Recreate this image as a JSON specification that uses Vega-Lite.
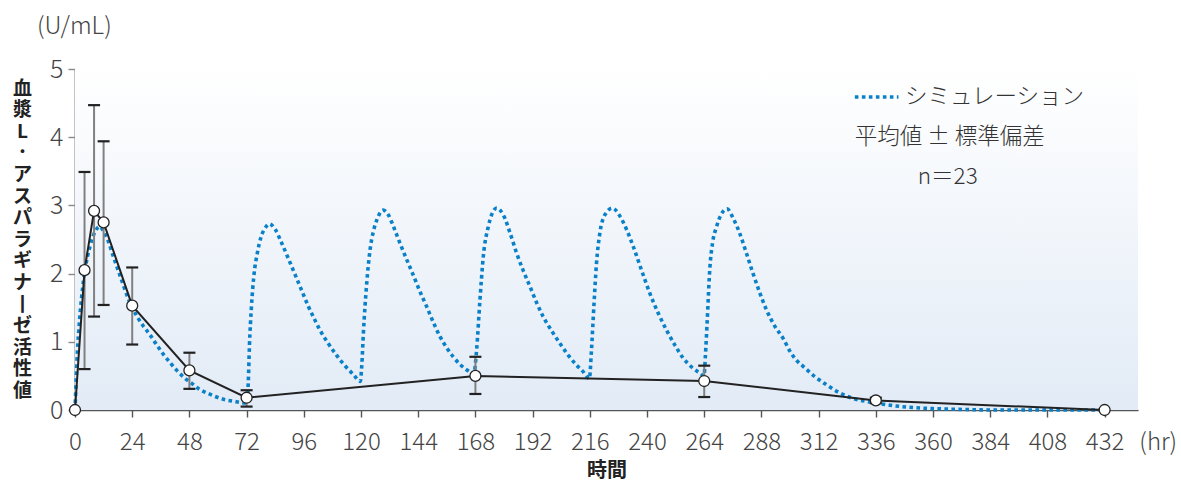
{
  "$schema": "https://vega.github.io/schema/vega-lite/v6.json",
  "width": 1063,
  "height": 341,
  "autosize": "none",
  "padding": {"left": 75, "top": 69, "right": 43, "bottom": 73},
  "background": "white",
  "data": {"values": [{"note": "annotation"}]},
  "config": {
    "view": {"stroke": null},
    "font": "Noto Sans CJK JP",
    "axis": {"labelFont": "Noto Sans CJK JP", "titleFont": "Noto Sans CJK JP", "grid": false}
  },
  "title": {
    "text": "(U/mL)",
    "anchor": "start",
    "frame": "group",
    "dx": -38,
    "offset": 18,
    "fontSize": 24,
    "fontWeight": 300,
    "font": "Noto Sans CJK JP",
    "color": "#444444"
  },
  "datasets": {
    "sim": [
      {"t": 0, "c": 0.0}, {"t": 0.5, "c": 0.45}, {"t": 1, "c": 0.85}, {"t": 1.7, "c": 1.22},
      {"t": 2.8, "c": 1.66}, {"t": 4.2, "c": 2.05}, {"t": 6.3, "c": 2.4}, {"t": 8.5, "c": 2.62},
      {"t": 10.3, "c": 2.69}, {"t": 12, "c": 2.62}, {"t": 14, "c": 2.47}, {"t": 16.1, "c": 2.25},
      {"t": 19, "c": 1.96}, {"t": 22.4, "c": 1.63}, {"t": 25.9, "c": 1.38}, {"t": 28.5, "c": 1.24},
      {"t": 31.5, "c": 1.1}, {"t": 34, "c": 0.97}, {"t": 37, "c": 0.82}, {"t": 40, "c": 0.69},
      {"t": 43, "c": 0.57}, {"t": 46, "c": 0.47}, {"t": 49, "c": 0.39}, {"t": 52.4, "c": 0.3},
      {"t": 56, "c": 0.24}, {"t": 59.4, "c": 0.19}, {"t": 63, "c": 0.15}, {"t": 66.4, "c": 0.13},
      {"t": 69.5, "c": 0.11}, {"t": 72.2, "c": 0.1},
      {"t": 72.7, "c": 0.4}, {"t": 73.2, "c": 0.95}, {"t": 74, "c": 1.5}, {"t": 75, "c": 1.95},
      {"t": 76.5, "c": 2.3}, {"t": 78, "c": 2.53}, {"t": 80, "c": 2.68}, {"t": 81.5, "c": 2.73},
      {"t": 84, "c": 2.65}, {"t": 86.7, "c": 2.45}, {"t": 90, "c": 2.18}, {"t": 93, "c": 1.93},
      {"t": 95.5, "c": 1.72}, {"t": 97.9, "c": 1.52}, {"t": 100.5, "c": 1.33}, {"t": 102.8, "c": 1.17},
      {"t": 106, "c": 0.99}, {"t": 109.8, "c": 0.8}, {"t": 113, "c": 0.66}, {"t": 116.8, "c": 0.52},
      {"t": 119.7, "c": 0.42},
      {"t": 120.3, "c": 0.64}, {"t": 121, "c": 1.13}, {"t": 122.4, "c": 1.86}, {"t": 123.8, "c": 2.35},
      {"t": 125.2, "c": 2.62}, {"t": 126.8, "c": 2.8}, {"t": 129.3, "c": 2.93}, {"t": 131.5, "c": 2.86},
      {"t": 133.5, "c": 2.7}, {"t": 136.3, "c": 2.45}, {"t": 139, "c": 2.22}, {"t": 141.9, "c": 1.98},
      {"t": 144.7, "c": 1.74}, {"t": 147.5, "c": 1.52}, {"t": 150.3, "c": 1.29}, {"t": 153.1, "c": 1.08},
      {"t": 156, "c": 0.91}, {"t": 158.7, "c": 0.78}, {"t": 161.5, "c": 0.67}, {"t": 164.3, "c": 0.59},
      {"t": 167.3, "c": 0.53},
      {"t": 168.5, "c": 0.88}, {"t": 169.9, "c": 1.61}, {"t": 171.3, "c": 2.25}, {"t": 173.4, "c": 2.69},
      {"t": 175, "c": 2.88}, {"t": 176.9, "c": 2.96}, {"t": 179.7, "c": 2.86}, {"t": 182.5, "c": 2.6},
      {"t": 185.3, "c": 2.3}, {"t": 188, "c": 2.05}, {"t": 190.9, "c": 1.81}, {"t": 193.6, "c": 1.58},
      {"t": 196.4, "c": 1.37}, {"t": 200, "c": 1.16}, {"t": 203.4, "c": 0.98}, {"t": 207, "c": 0.8},
      {"t": 210.4, "c": 0.66}, {"t": 213, "c": 0.57}, {"t": 215.8, "c": 0.46},
      {"t": 216.7, "c": 0.88}, {"t": 217.7, "c": 1.52}, {"t": 218.8, "c": 2.15}, {"t": 220.2, "c": 2.59},
      {"t": 222.3, "c": 2.86}, {"t": 225.5, "c": 2.96}, {"t": 228.5, "c": 2.85}, {"t": 231.5, "c": 2.64},
      {"t": 234.2, "c": 2.4}, {"t": 237.7, "c": 2.05}, {"t": 241.2, "c": 1.71}, {"t": 244.7, "c": 1.42},
      {"t": 248.2, "c": 1.17}, {"t": 251.7, "c": 0.95}, {"t": 255.2, "c": 0.76}, {"t": 258.7, "c": 0.63},
      {"t": 262.2, "c": 0.54}, {"t": 263.9, "c": 0.5},
      {"t": 264.5, "c": 0.8}, {"t": 265.2, "c": 1.27}, {"t": 266.4, "c": 2.1}, {"t": 267.5, "c": 2.45},
      {"t": 269.2, "c": 2.69}, {"t": 271, "c": 2.86}, {"t": 273.6, "c": 2.95}, {"t": 276.3, "c": 2.8},
      {"t": 278.9, "c": 2.59}, {"t": 281.7, "c": 2.3}, {"t": 284.5, "c": 2.0}, {"t": 287.3, "c": 1.72},
      {"t": 290.1, "c": 1.47}, {"t": 293.6, "c": 1.23}, {"t": 297.1, "c": 1.05}, {"t": 300, "c": 0.86},
      {"t": 302.7, "c": 0.73}, {"t": 305.5, "c": 0.64}, {"t": 310.4, "c": 0.49}, {"t": 315.3, "c": 0.37},
      {"t": 320.8, "c": 0.25}, {"t": 326.4, "c": 0.17}, {"t": 331.4, "c": 0.13}, {"t": 336.3, "c": 0.1},
      {"t": 343, "c": 0.065}, {"t": 350, "c": 0.04}, {"t": 360, "c": 0.02}, {"t": 370, "c": 0.01},
      {"t": 385, "c": 0.0}, {"t": 410, "c": 0.0}, {"t": 432, "c": 0.0}
    ],
    "obs": [
      {"t": 0, "mean": 0.0, "lo": 0.0, "hi": 0.0},
      {"t": 4, "mean": 2.05, "lo": 0.6, "hi": 3.49},
      {"t": 8, "mean": 2.92, "lo": 1.37, "hi": 4.47},
      {"t": 12, "mean": 2.75, "lo": 1.54, "hi": 3.94},
      {"t": 24, "mean": 1.53, "lo": 0.96, "hi": 2.09},
      {"t": 48, "mean": 0.58, "lo": 0.31, "hi": 0.84},
      {"t": 72, "mean": 0.18, "lo": 0.05, "hi": 0.29},
      {"t": 168, "mean": 0.5, "lo": 0.235, "hi": 0.78},
      {"t": 264, "mean": 0.425, "lo": 0.19, "hi": 0.65},
      {"t": 336, "mean": 0.14, "lo": 0.1, "hi": 0.18},
      {"t": 432, "mean": 0.0, "lo": 0.0, "hi": 0.0}
    ]
  },
  "layer": [
    {
      "mark": {
        "type": "rect",
        "color": {
          "gradient": "linear", "x1": 0, "y1": 0, "x2": 0, "y2": 1,
          "stops": [{"offset": 0, "color": "#ffffff"}, {"offset": 1, "color": "#e2ebf6"}]
        }
      },
      "encoding": {
        "x": {
          "datum": 0, "type": "quantitative",
          "scale": {"domain": [0, 446], "nice": false, "zero": false},
          "axis": {
            "values": [0, 12, 24, 36, 48, 60, 72, 84, 96, 108, 120, 132, 144, 156, 168, 180, 192, 204, 216, 228, 240, 252, 264, 276, 288, 300, 312, 324, 336, 348, 360, 372, 384, 396, 408, 420, 432],
            "labelExpr": "datum.value % 24 === 0 ? format(datum.value, 'd') : ''",
            "title": "時間",
            "titleFontSize": 20,
            "titleFontWeight": "bold",
            "titleColor": "#222222",
            "titlePadding": 6,
            "labelFontSize": 24,
            "labelFontWeight": 300,
            "labelColor": "#444444",
            "labelPadding": 13,
            "labelFlush": false,
            "labelOverlap": false,
            "domainColor": "#555555",
            "domainWidth": 1.6,
            "tickColor": "#555555",
            "tickWidth": 1.4,
            "tickSize": {"condition": {"test": "datum.value % 24 === 0", "value": 7}, "value": 4}
          }
        },
        "x2": {"datum": 446},
        "y": {
          "datum": 0, "type": "quantitative",
          "scale": {"domain": [0, 5], "nice": false},
          "axis": {
            "values": [0, 0.5, 1, 1.5, 2, 2.5, 3, 3.5, 4, 4.5, 5],
            "labelExpr": "datum.value % 1 === 0 ? format(datum.value, 'd') : ''",
            "title": ["血", "漿", "L", "･", "ア", "ス", "パ", "ラ", "ギ", "ナ", "丨", "ゼ", "活", "性", "値"],
            "titleAngle": 0,
            "titleFontSize": 19,
            "titleFontWeight": "bold",
            "titleColor": "#222222",
            "titleLineHeight": 21.6,
            "titleAlign": "center",
            "titleBaseline": "top",
            "titleX": -53,
            "titleY": 10,
            "labelFontSize": 25,
            "labelFontWeight": 300,
            "labelColor": "#444444",
            "labelPadding": 5,
            "labelOverlap": false,
            "labelFlush": false,
            "domainColor": "#888888",
            "domainWidth": 2,
            "tickColor": "#888888",
            "tickWidth": 1.4,
            "tickSize": 7
          }
        },
        "y2": {"datum": 5}
      }
    },
    {
      "data": {"name": "sim"},
      "mark": {"type": "line", "color": "#0a80c8", "strokeWidth": 3.6, "strokeDash": [3.6, 3.4], "interpolate": "monotone"},
      "encoding": {
        "x": {"field": "t", "type": "quantitative"},
        "y": {"field": "c", "type": "quantitative"}
      }
    },
    {
      "data": {"name": "obs"},
      "mark": {"type": "rule", "color": "#808080", "strokeWidth": 2},
      "encoding": {
        "x": {"field": "t", "type": "quantitative"},
        "y": {"field": "lo", "type": "quantitative"},
        "y2": {"field": "hi"}
      }
    },
    {
      "data": {"name": "obs"},
      "transform": [{"filter": "datum.hi > datum.lo"}],
      "mark": {"type": "tick", "orient": "horizontal", "color": "#222222", "opacity": 1, "size": 12, "thickness": 2.2},
      "encoding": {
        "x": {"field": "t", "type": "quantitative"},
        "y": {"field": "lo", "type": "quantitative"}
      }
    },
    {
      "data": {"name": "obs"},
      "transform": [{"filter": "datum.hi > datum.lo"}],
      "mark": {"type": "tick", "orient": "horizontal", "color": "#222222", "opacity": 1, "size": 12, "thickness": 2.2},
      "encoding": {
        "x": {"field": "t", "type": "quantitative"},
        "y": {"field": "hi", "type": "quantitative"}
      }
    },
    {
      "data": {"name": "obs"},
      "mark": {"type": "line", "color": "#222222", "strokeWidth": 2},
      "encoding": {
        "x": {"field": "t", "type": "quantitative"},
        "y": {"field": "mean", "type": "quantitative"}
      }
    },
    {
      "data": {"name": "obs"},
      "mark": {"type": "point", "shape": "circle", "filled": true, "fill": "#ffffff", "stroke": "#222222", "strokeWidth": 1.3, "size": 120, "opacity": 1},
      "encoding": {
        "x": {"field": "t", "type": "quantitative"},
        "y": {"field": "mean", "type": "quantitative"}
      }
    },
    {
      "mark": {"type": "rule", "color": "#0a80c8", "strokeWidth": 3.6, "strokeDash": [3.6, 3.4]},
      "encoding": {
        "x": {"datum": 327.2, "type": "quantitative"},
        "x2": {"datum": 345.5},
        "y": {"datum": 4.59, "type": "quantitative"}
      }
    },
    {
      "mark": {"type": "text", "align": "left", "baseline": "middle", "fontSize": 22.5, "fontWeight": 300, "color": "#333333"},
      "encoding": {
        "x": {"datum": 348.2, "type": "quantitative"},
        "y": {"datum": 4.59, "type": "quantitative"},
        "text": {"value": "シミュレーション"}
      }
    },
    {
      "mark": {"type": "text", "align": "left", "baseline": "middle", "fontSize": 22.5, "fontWeight": 300, "color": "#333333"},
      "encoding": {
        "x": {"datum": 327.2, "type": "quantitative"},
        "y": {"datum": 4.0, "type": "quantitative"},
        "text": {"value": "平均値 ± 標準偏差"}
      }
    },
    {
      "mark": {"type": "text", "align": "left", "baseline": "middle", "fontSize": 22.5, "fontWeight": 300, "color": "#333333"},
      "encoding": {
        "x": {"datum": 353.6, "type": "quantitative"},
        "y": {"datum": 3.42, "type": "quantitative"},
        "text": {"value": "n＝23"}
      }
    },
    {
      "mark": {"type": "text", "align": "center", "baseline": "middle", "fontSize": 24, "fontWeight": 300, "color": "#444444", "dy": 33},
      "encoding": {
        "x": {"datum": 454.5, "type": "quantitative"},
        "y": {"datum": 0, "type": "quantitative"},
        "text": {"value": "(hr)"}
      }
    }
  ]
}
